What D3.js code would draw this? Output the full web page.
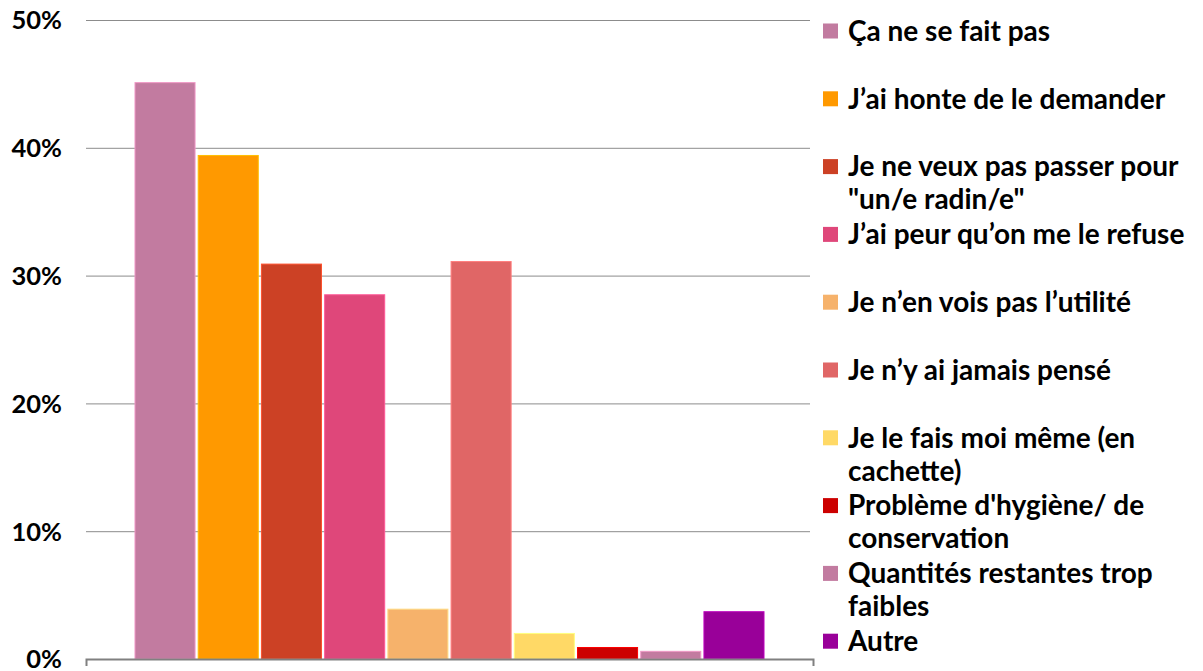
<!DOCTYPE html>
<html>
<head>
<meta charset="utf-8">
<script src="https://cdn.jsdelivr.net/npm/d3@7"></script>
<style>
  body { margin: 0; background: #fff; }
  svg text { font-family: Lato, "Open Sans", sans-serif; font-weight: bold; fill: #000; }
</style>
</head>
<body>
<div id="chart"></div>
<script>
// categories (legend labels, \n = line break as in the original)
var categories = [
  "Ça ne se fait pas",
  "J\u2019ai honte de le demander",
  "Je ne veux pas passer pour\n\"un/e radin/e\"",
  "J\u2019ai peur qu\u2019on me le refuse",
  "Je n\u2019en vois pas l\u2019utilité",
  "Je n\u2019y ai jamais pensé",
  "Je le fais moi même (en\ncachette)",
  "Problème d'hygiène/ de\nconservation",
  "Quantités restantes trop\nfaibles",
  "Autre"
];
var values = [0.451, 0.394, 0.309, 0.285, 0.039, 0.311, 0.020, 0.009, 0.006, 0.037];
var colors = ["#C27BA0", "#FF9900", "#CC4125", "#DF477A", "#F6B26B",
              "#E06666", "#FFD966", "#CC0000", "#C27BA0", "#990099"];
var yTicks = [0, 0.1, 0.2, 0.3, 0.4, 0.5];

var w = 1203, h = 671;
var plot = { left: 86, right: 813, top: 20, bottom: 659 };

var svg = d3.select("#chart").append("svg")
  .attr("width", w).attr("height", h);

var y = d3.scaleLinear().domain([0, 0.5]).range([plot.bottom, plot.top]);
var x = d3.scaleBand().domain(categories)
  .range([plot.left, plot.right])
  .paddingInner(0.05)
  .paddingOuter(0.775);

// gridlines
var grid = svg.append("g").attr("transform", "translate(" + plot.left + ",0)")
  .call(d3.axisLeft(y).tickValues(yTicks.slice(1))
    .tickSize(-(plot.right - plot.left - 3)).tickFormat(""));
grid.select(".domain").remove();
grid.selectAll("line").attr("stroke", "#8c8c8c").attr("stroke-width", 1);

// y labels
var yAxis = svg.append("g").attr("transform", "translate(62,0)")
  .call(d3.axisLeft(y).tickValues(yTicks).tickSize(0).tickPadding(0)
    .tickFormat(d3.format(".0%")));
yAxis.select(".domain").remove();
yAxis.selectAll("text").style("font-size", "25.5px").attr("dy", "0.35em");

// bars
svg.selectAll(".bar").data(categories).enter().append("rect")
  .attr("class", "bar")
  .attr("x", function(d) { return x(d); })
  .attr("width", x.bandwidth())
  .attr("y", function(d, i) { return y(values[i]); })
  .attr("height", function(d, i) { return y(0) - y(values[i]); })
  .attr("fill", function(d, i) { return colors[i]; })
  .attr("stroke", function(d, i) { return d3.color(colors[i]).brighter(0.6); })
  .attr("stroke-width", 1);

// bottom axis with end ticks
var one = d3.scaleBand().domain(["g"]).range([plot.left, plot.right]);
var xAxis = svg.append("g").attr("transform", "translate(0," + plot.bottom + ")")
  .call(d3.axisBottom(one).tickSizeInner(0).tickSizeOuter(7).tickFormat(""));
xAxis.selectAll(".tick").remove();
xAxis.select(".domain").attr("stroke", "#808080").attr("stroke-width", 2);

// legend
var legend = svg.append("g");
var item = legend.selectAll(".item").data(categories).enter().append("g")
  .attr("class", "item")
  .attr("transform", function(d, i) { return "translate(823," + (31 + i * 67.8) + ")"; });
item.append("rect")
  .attr("x", 0).attr("y", -7.5).attr("width", 15).attr("height", 15)
  .attr("fill", function(d, i) { return colors[i]; });
item.append("text")
  .attr("x", 25)
  .style("font-size", "28px")
  .each(function(d) {
    var t = d3.select(this);
    d.split("\n").forEach(function(line, k) {
      t.append("tspan").attr("x", 25).attr("y", k * 33).attr("dy", "0.35em").text(line);
    });
  });
</script>
</body>
</html>
